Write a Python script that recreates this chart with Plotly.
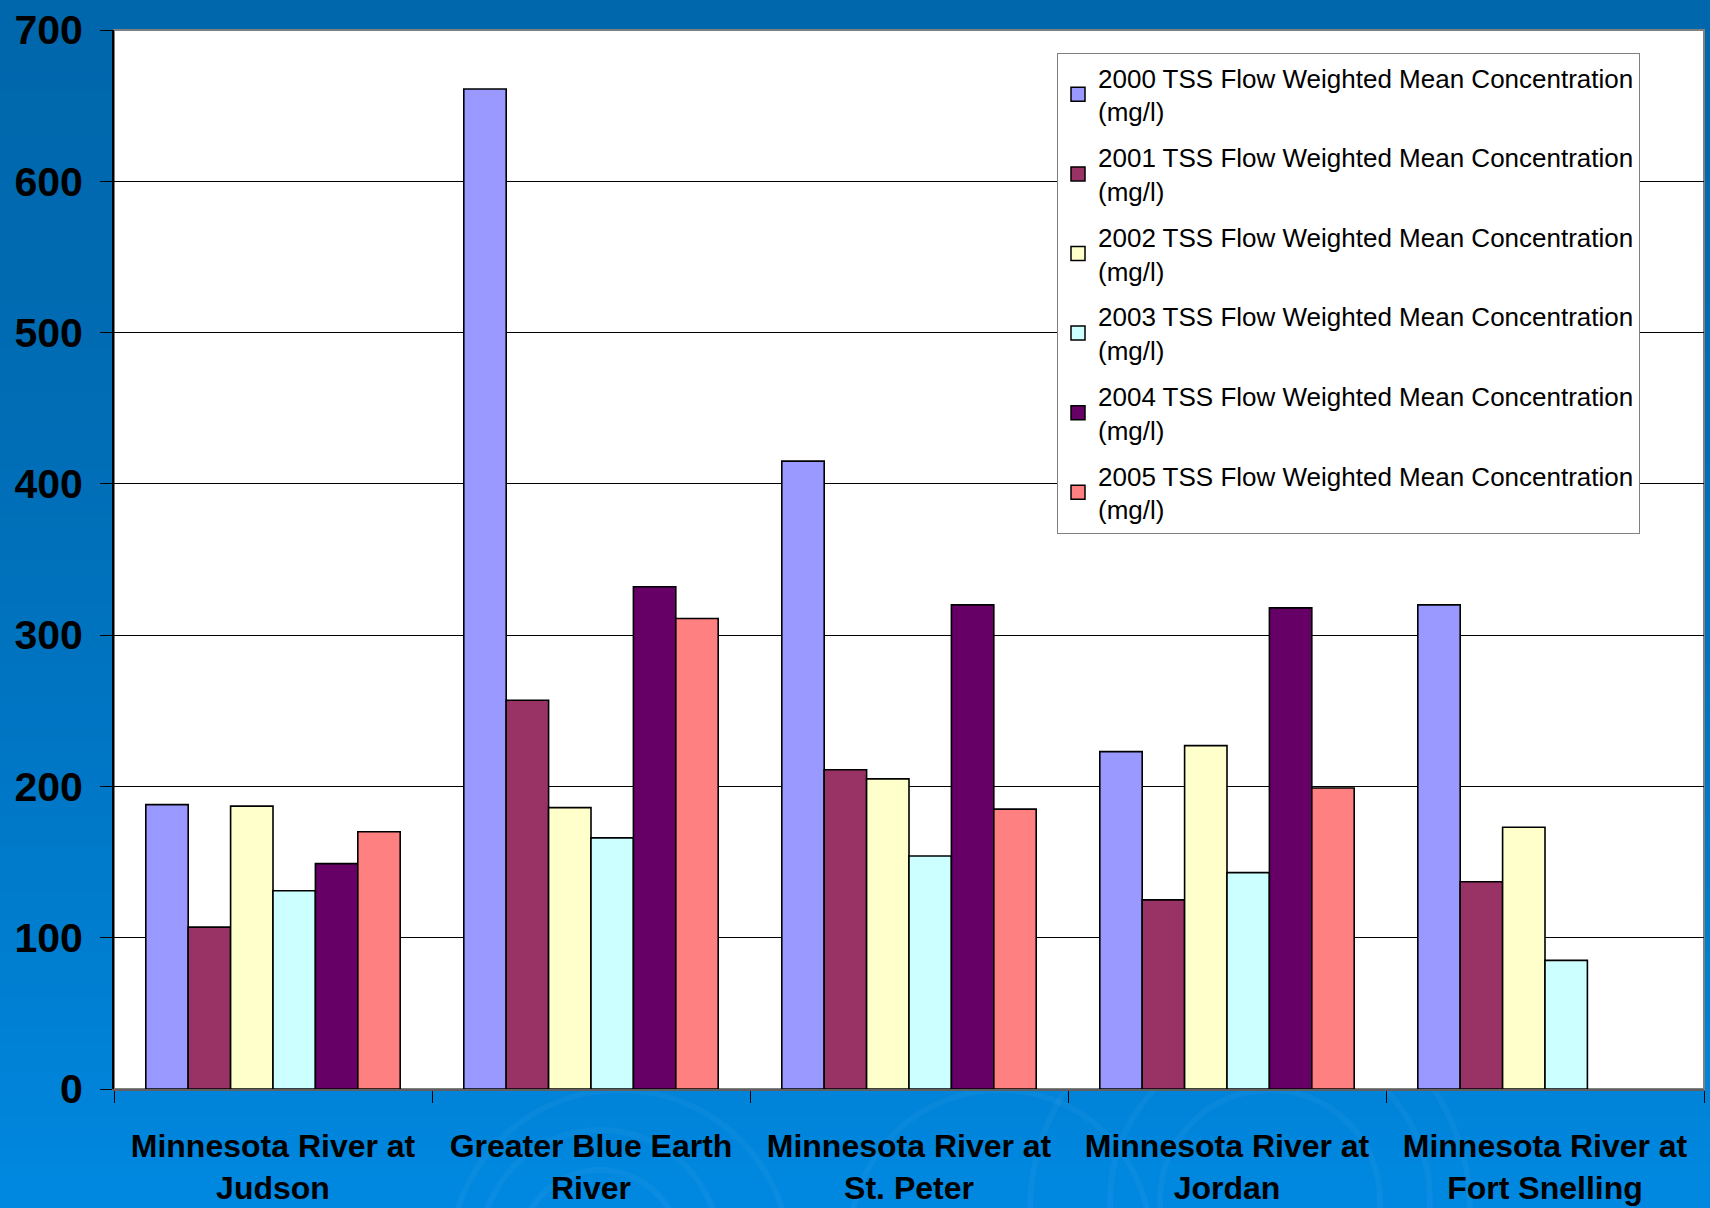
import plotly.graph_objects as go

categories = [
    "Minnesota River at<br>Judson",
    "Greater Blue Earth<br>River",
    "Minnesota River at<br>St. Peter",
    "Minnesota River at<br>Jordan",
    "Minnesota River at<br>Fort Snelling",
]
series_names = [
    "2000 TSS Flow Weighted Mean Concentration<br>(mg/l)",
    "2001 TSS Flow Weighted Mean Concentration<br>(mg/l)",
    "2002 TSS Flow Weighted Mean Concentration<br>(mg/l)",
    "2003 TSS Flow Weighted Mean Concentration<br>(mg/l)",
    "2004 TSS Flow Weighted Mean Concentration<br>(mg/l)",
    "2005 TSS Flow Weighted Mean Concentration<br>(mg/l)",
]
v2000 = [188, 661, 415, 223, 320]
v2001 = [107, 257, 211, 125, 137]
v2002 = [187, 186, 205, 227, 173]
v2003 = [131, 166, 154, 143, 85]
v2004 = [149, 332, 320, 318, None]
v2005 = [170, 311, 185, 199, None]
series_values = [v2000, v2001, v2002, v2003, v2004, v2005]
colors = ["#9999FF", "#993366", "#FFFFCC", "#CCFFFF", "#660066", "#FF8080"]
y_ticks = [0, 100, 200, 300, 400, 500, 600, 700]

W, H = 1710, 1208
ML, MR, MT, MB = 114, 6, 30, 119
PW, PH = W - ML - MR, H - MT - MB


def px2x(px):
    return (px - ML) / PW


def py2y(py):
    return (H - MB - py) / PH


fig = go.Figure()
for name, vals, col in zip(series_names, series_values, colors):
    fig.add_trace(go.Bar(
        name=name, x=categories, y=vals, showlegend=False,
        marker=dict(color=col, line=dict(color="black", width=1.6)),
    ))
# legend entries with larger square swatches
for i, (name, col) in enumerate(zip(series_names, colors)):
    fig.add_trace(go.Scatter(
        name=name, x=[None], y=[None], mode="markers", legendgroup="g%d" % i,
        marker=dict(symbol="square", size=14, color=col, line=dict(color="black", width=1.5)),
    ))

# background gradient
shapes = []
n = 80
top_c = (0, 0x67, 0xAC)
bot_c = (0, 0x88, 0xE0)
for i in range(n):
    t = i / (n - 1)
    tt = t ** 1.6
    c = tuple(int(round(top_c[k] + (bot_c[k] - top_c[k]) * tt)) for k in range(3))
    y0 = H * i / n
    y1 = H * (i + 1) / n + 1
    shapes.append(dict(type="rect", xref="paper", yref="paper", layer="below",
                       x0=px2x(-5), x1=px2x(W + 5), y0=py2y(y1), y1=py2y(y0),
                       line=dict(width=0), fillcolor="rgb(%d,%d,%d)" % c))
# faint swirls
for cx, cy, r in [(600, 1250, 120), (600, 1250, 80), (620, 1260, 170),
                  (1270, 1200, 110), (1270, 1200, 160), (1250, 1210, 220),
                  (1000, 1240, 150)]:
    shapes.append(dict(type="circle", xref="paper", yref="paper", layer="below",
                       x0=px2x(cx - r), x1=px2x(cx + r), y0=py2y(cy + r), y1=py2y(cy - r),
                       line=dict(width=6, color="rgba(255,255,255,0.035)"),
                       fillcolor="rgba(0,0,0,0)"))
# white plot area
shapes.append(dict(type="rect", xref="paper", yref="paper", layer="below",
                   x0=0, x1=1, y0=0, y1=1, line=dict(width=0), fillcolor="white"))
# gray border
shapes.append(dict(type="rect", xref="paper", yref="paper", layer="below",
                   x0=0, x1=1, y0=0, y1=1, line=dict(width=2, color="#808080"),
                   fillcolor="rgba(0,0,0,0)"))

fig.update_layout(
    width=W, height=H,
    margin=dict(l=ML, r=MR, t=MT, b=MB, pad=0, autoexpand=False),
    paper_bgcolor="#0077C4",
    plot_bgcolor="white",
    barmode="group", bargap=0.2, bargroupgap=0,
    shapes=shapes,
    font=dict(family="Liberation Sans, Arial, sans-serif", color="black"),
    legend=dict(
        x=px2x(1640), y=py2y(53), xanchor="right", yanchor="top",
        bgcolor="white", bordercolor="#808080", borderwidth=1,
        font=dict(family="Liberation Sans, Arial", size=26, color="black"),
        traceorder="grouped", itemwidth=30, tracegroupgap=9,
    ),
    xaxis=dict(
        showgrid=False, showline=True, linecolor="#606060", linewidth=2,
        ticks="outside", tickson="boundaries", ticklen=12, tickcolor="black", tickwidth=1,
        tickfont=dict(family="Liberation Sans, Arial", size=32, color="black", weight="bold"),
        ticklabelstandoff=28, automargin=False,
    ),
    yaxis=dict(
        range=[0, 700], tickvals=y_ticks, ticktext=[str(v) for v in y_ticks],
        showgrid=True, gridcolor="black", gridwidth=1,
        showline=True, linecolor="black", linewidth=2,
        ticks="outside", ticklen=12, tickcolor="black", tickwidth=1,
        tickfont=dict(family="Liberation Sans, Arial", size=41, color="black", weight="bold"),
        ticklabelstandoff=9, zeroline=False, automargin=False,
    ),
)

fig.write_html("out.html")
